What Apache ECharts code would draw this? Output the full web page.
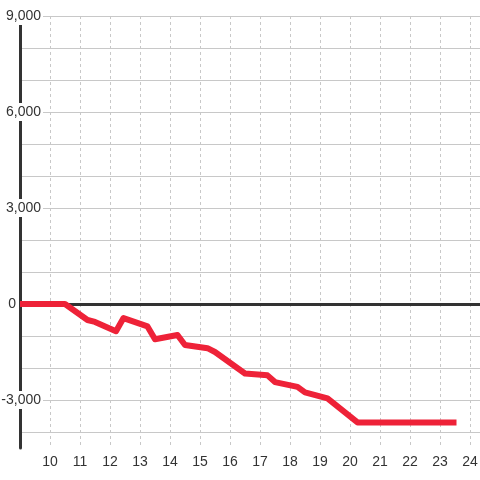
<!DOCTYPE html>
<html>
<head>
<meta charset="utf-8">
<script src="https://cdn.jsdelivr.net/npm/echarts@6/dist/echarts.min.js"></script>
<style>
  html, body { margin: 0; padding: 0; background: #fff; }
  #chart { width: 480px; height: 480px; }
</style>
</head>
<body>
<div id="chart"></div>
<script>
const hours = [9, 10.5, 11.25, 11.5, 12.2, 12.45, 13.25, 13.5, 14.25, 14.5, 15.25, 15.5, 16.5, 17.25, 17.5, 18.25, 18.5, 19.25, 20.25, 23.55];
const values = [0, 0, -500, -560, -850, -440, -700, -1100, -970, -1280, -1380, -1500, -2170, -2230, -2440, -2590, -2760, -2950, -3700, -3700];
const yLabelStep = 3000;

const chart = echarts.init(document.getElementById("chart"));

const option = {
  animation: false,
  grid: { left: 20, right: 0, top: 16, bottom: 32, outerBoundsMode: "none", containLabel: false },
  textStyle: { fontFamily: "Liberation Sans, Arial, sans-serif" },
  xAxis: {
    type: "value",
    min: 9,
    max: 24.3333,
    interval: 1,
    axisLine: { show: false },
    axisTick: { show: false },
    axisLabel: {
      color: "#333",
      fontSize: 14,
      margin: 7,
      showMaxLabel: false,
      formatter: (v) => (v === 9 ? "" : String(v)),
    },
    splitLine: { show: true, lineStyle: { color: "#c8c8c8", type: [3, 3], width: 1 } },
  },
  yAxis: {
    type: "value",
    min: -4500,
    max: 9000,
    interval: 500,
    axisLine: { show: true, lineStyle: { color: "#333", width: 3 } },
    axisTick: { show: false },
    axisLabel: {
      fontSize: 14,
      margin: -23,
      formatter: (v) => {
        if (v === 0) return "{z|0}";
        return v % yLabelStep === 0 ? "{n|" + v.toLocaleString("en-US") + "}" : "";
      },
      rich: {
        n: { color: "#333", fontSize: 14, backgroundColor: "#fff", padding: [2, 2, 2, 2] },
        z: { color: "#333", fontSize: 14, padding: [0, 27, 0, 0] },
      },
    },
    // every other 500-step line is hidden, leaving gridlines at each 1,000
    splitLine: { show: true, lineStyle: { color: ["transparent", "#c8c8c8"], width: 1 } },
  },
  series: [
    {
      type: "line",
      data: [],
      z: 1,
      markLine: {
        silent: true,
        symbol: "none",
        label: { show: false },
        lineStyle: { color: "#333", width: 3, type: "solid" },
        data: [{ yAxis: 0 }],
      },
    },
    {
      type: "line",
      z: 5,
      data: hours.map((h, i) => [h, values[i]]),
      symbol: "none",
      lineStyle: { color: "#ee2238", width: 6, join: "round", cap: "butt" },
    },
  ],
};

chart.setOption(option);
</script>
</body>
</html>
